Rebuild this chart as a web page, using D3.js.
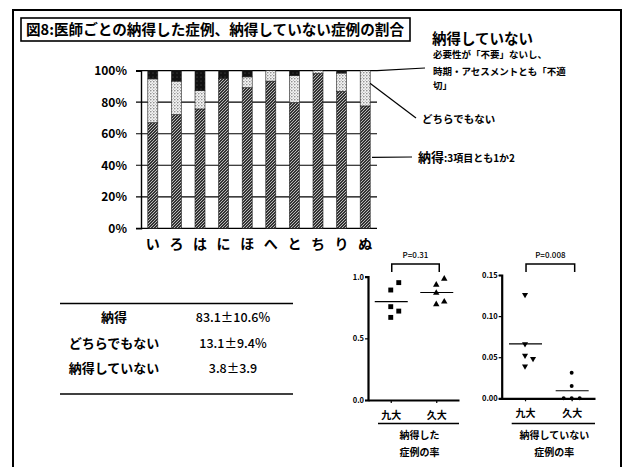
<!DOCTYPE html>
<html>
<head>
<meta charset="utf-8">
<script src="https://cdn.jsdelivr.net/npm/d3@7"></script>
<style>
  html, body { margin: 0; padding: 0; background: #fff; }
  svg { display: block; font-family: "Noto Sans CJK JP", "Noto Sans", sans-serif; }
  text { fill: #000; }
</style>
</head>
<body>
<svg id="chart" width="624" height="467"></svg>
<script>
// Per-doctor case ratios (%)
const categories = ["い", "ろ", "は", "に", "ほ", "へ", "と", "ち", "り", "ぬ"];
const agreed     = [67.0, 72.1, 75.7, 95.2, 89.2, 93.4, 79.7, 98.3, 86.9, 77.6];
const neutral    = [27.8, 21.3, 11.7,  0.0,  6.9,  6.6, 17.2,  1.7, 11.6, 22.4];
const notAgreed  = [ 5.2,  6.6, 12.6,  4.8,  3.9,  0.0,  3.1,  0.0,  1.5,  0.0];
const hospital   = ["九大", "九大", "九大", "九大", "九大", "久大", "久大", "久大", "久大", "久大"];
const yTicksPct  = [0, 20, 40, 60, 80, 100];

// Summary table
const tableLabels = ["納得", "どちらでもない", "納得していない"];
const tableValues = ["83.1±10.6%", "13.1±9.4%", "3.8±3.9"];

// Group comparison
const groups = ["九大", "久大"];
const pValues = ["P=0.31", "P=0.008"];
const leftTicks = [0, 0.5, 1.0];
const rightTicks = [0, 0.05, 0.10, 0.15];

const svg = d3.select("#chart");
svg.append("rect").attr("width", 624).attr("height", 467).attr("fill", "#fff");

// ---- patterns ----
const defs = svg.append("defs");
const pAg = defs.append("pattern").attr("id", "pAgreed").attr("patternUnits", "userSpaceOnUse")
  .attr("width", 3).attr("height", 3);
pAg.append("rect").attr("width", 3).attr("height", 3).attr("fill", "#333");
pAg.append("path").attr("d", "M0,3 L3,0 M-1,1 L1,-1 M2,4 L4,2").attr("stroke", "#c8c8c8").attr("stroke-width", 0.9);

const pNe = defs.append("pattern").attr("id", "pNeutral").attr("patternUnits", "userSpaceOnUse")
  .attr("width", 3).attr("height", 3);
pNe.append("rect").attr("width", 3).attr("height", 3).attr("fill", "#f4f4f4");
pNe.append("circle").attr("cx", 0.8).attr("cy", 0.8).attr("r", 0.75).attr("fill", "#777");
pNe.append("circle").attr("cx", 2.3).attr("cy", 2.3).attr("r", 0.5).attr("fill", "#999");

const pNo = defs.append("pattern").attr("id", "pNot").attr("patternUnits", "userSpaceOnUse")
  .attr("width", 4).attr("height", 4);
pNo.append("rect").attr("width", 4).attr("height", 4).attr("fill", "#111");
pNo.append("circle").attr("cx", 1).attr("cy", 1).attr("r", 0.5).attr("fill", "#666");

// ---- outer frame & title ----
svg.append("path").attr("d", "M13,470 L13,10 L621,10 L621,470")
  .attr("fill", "none").attr("stroke", "#000").attr("stroke-width", 2);
svg.append("rect").attr("x", 21).attr("y", 18).attr("width", 389).attr("height", 23)
  .attr("fill", "none").attr("stroke", "#000").attr("stroke-width", 1.6);
svg.append("text").attr("x", 26).attr("y", 35).attr("font-size", 14.5).attr("font-weight", 700)
  .attr("textLength", 378).attr("lengthAdjust", "spacingAndGlyphs")
  .text("図8:医師ごとの納得した症例、納得していない症例の割合");

// ---- stacked bar chart ----
const bx0 = 141, bx1 = 377, by0 = 228.3, by1 = 70.7;
const x = d3.scaleBand().domain(categories).range([bx0, bx1]).paddingInner(0.576).paddingOuter(0.288);
const y = d3.scaleLinear().domain([0, 100]).range([by0, by1]);

const rows = categories.map((c, i) => ({ cat: c, agreed: agreed[i], neutral: neutral[i], notAgreed: notAgreed[i] }));
const stack = d3.stack().keys(["agreed", "neutral", "notAgreed"])(rows);
const fills = { agreed: "url(#pAgreed)", neutral: "url(#pNeutral)", notAgreed: "url(#pNot)" };

// grid lines
svg.append("g").selectAll("line").data(yTicksPct).join("line")
  .attr("x1", bx0 - 5).attr("x2", bx1).attr("y1", d => y(d)).attr("y2", d => y(d))
  .attr("stroke", "#000").attr("stroke-width", 1.2);

const barG = svg.append("g");
stack.forEach(layer => {
  barG.append("g").selectAll("rect").data(layer.filter(d => d[1] - d[0] > 0)).join("rect")
    .attr("x", d => x(d.data.cat)).attr("width", x.bandwidth())
    .attr("y", d => y(d[1])).attr("height", d => y(d[0]) - y(d[1]))
    .attr("fill", fills[layer.key]).attr("stroke", "#222").attr("stroke-width", 0.6);
});

// y axis
const yAxis = svg.append("g").attr("transform", `translate(${bx0},0)`)
  .call(d3.axisLeft(y).tickValues(yTicksPct).tickFormat(d => d + "%").tickSize(5).tickPadding(9));
yAxis.select(".domain").attr("stroke", "#000").attr("stroke-width", 1.4);
yAxis.selectAll(".tick line").remove();
yAxis.selectAll("text").attr("font-size", 12).attr("font-weight", 700).attr("font-family", "Noto Sans CJK JP");

// category labels
svg.append("g").selectAll("text").data(categories).join("text")
  .attr("x", d => x(d) + x.bandwidth() / 2).attr("y", 248.5)
  .attr("text-anchor", "middle").attr("font-size", 14).attr("font-weight", 700)
  .text(d => d);

// ---- leader lines & legend notes ----
const lead = svg.append("g").attr("stroke", "#000").attr("stroke-width", 1.2);
lead.append("line").attr("x1", bx1).attr("y1", y(100)).attr("x2", 425).attr("y2", 68);
lead.append("line").attr("x1", 370).attr("y1", y(92)).attr("x2", 416).attr("y2", 118);
lead.append("line").attr("x1", 372).attr("y1", y(45)).attr("x2", 412).attr("y2", 157);

svg.append("text").attr("x", 432).attr("y", 44).attr("font-size", 14.5).attr("font-weight", 700).text("納得していない");
const noteG = svg.append("g").attr("font-size", 9.5).attr("font-weight", 700);
noteG.append("text").attr("x", 433).attr("y", 58).text("必要性が「不要」ないし、");
noteG.append("text").attr("x", 433).attr("y", 75).text("時期・アセスメントとも「不適");
noteG.append("text").attr("x", 433).attr("y", 88.5).text("切」");
svg.append("text").attr("x", 422).attr("y", 123).attr("font-size", 10.5).attr("font-weight", 700).text("どちらでもない");
const agText = svg.append("text").attr("x", 418).attr("y", 162).attr("font-weight", 700);
agText.append("tspan").attr("font-size", 13).text("納得");
agText.append("tspan").attr("font-size", 10).text(":3項目とも1か2");

// ---- summary table ----
svg.append("line").attr("x1", 60).attr("x2", 293).attr("y1", 303.5).attr("y2", 303.5).attr("stroke", "#000").attr("stroke-width", 1.6);
svg.append("line").attr("x1", 60).attr("x2", 293).attr("y1", 394).attr("y2", 394).attr("stroke", "#000").attr("stroke-width", 1.6);
const rowY = [317, 343, 368];
svg.append("g").selectAll("text").data(tableLabels).join("text")
  .attr("x", 114).attr("y", (d, i) => rowY[i] + 4.5).attr("text-anchor", "middle")
  .attr("font-size", 13).attr("font-weight", 700).text(d => d);
svg.append("g").selectAll("text").data(tableValues).join("text")
  .attr("x", 233).attr("y", (d, i) => rowY[i] + 4.5).attr("text-anchor", "middle")
  .attr("font-size", 12.5).attr("font-weight", 500).text(d => d);

// ---- dot plots ----
function jitterOffsets(vals, ys, step, minGap) {
  const order = vals.map((v, i) => i).sort((a, b) => vals[a] - vals[b]);
  const off = new Array(vals.length).fill(0);
  const placed = [];
  const candidates = [0, step, -step, 2 * step, -2 * step];
  order.forEach(i => {
    const yy = ys(vals[i]);
    const c = candidates.find(o => !placed.some(p => p.o === o && Math.abs(p.y - yy) < minGap));
    off[i] = c;
    placed.push({ o: c, y: yy });
  });
  return off;
}

function dotPlot(opts) {
  const { values, x0, x1, yBottom, yTop, domainMax, ticks, fmt, symbols, pText, caption } = opts;
  const g = svg.append("g");
  const ys = d3.scaleLinear().domain([0, domainMax]).range([yBottom, yTop]);
  const xs = d3.scalePoint().domain(groups).range([x0, x1]).padding(0.5);

  const ya = g.append("g").attr("transform", `translate(${x0},0)`)
    .call(d3.axisLeft(ys).tickValues(ticks).tickFormat(d3.format(fmt)).tickSize(3).tickPadding(1));
  ya.select(".domain").attr("stroke", "#000").attr("stroke-width", 2.2);
  ya.selectAll(".tick line").attr("stroke-width", 1.2);
  ya.selectAll("text").attr("font-size", 7.5).attr("font-weight", 700).attr("font-family", "Noto Sans CJK JP");

  const xa = g.append("g").attr("transform", `translate(0,${yBottom})`)
    .call(d3.axisBottom(xs).tickSize(3).tickPadding(9).tickSizeOuter(0));
  xa.select(".domain").attr("stroke", "#000").attr("stroke-width", 2.2);
  xa.selectAll(".tick line").attr("stroke-width", 1.2);
  xa.selectAll("text").attr("font-size", 10).attr("font-weight", 700).attr("font-family", "Noto Sans CJK JP");

  groups.forEach((grp, gi) => {
    const vals = values.filter((v, i) => hospital[i] === grp);
    const offs = jitterOffsets(vals, ys, 8, 8);
    const sym = d3.symbol().type(symbols[gi].type).size(symbols[gi].size);
    g.append("g").selectAll("path").data(vals).join("path")
      .attr("transform", (d, i) => `translate(${xs(grp) + offs[i]},${ys(d)})${symbols[gi].rotate ? " rotate(180)" : ""}`)
      .attr("d", sym).attr("fill", "#000");
    const m = d3.mean(vals);
    g.append("line").attr("x1", xs(grp) - 16).attr("x2", xs(grp) + 17)
      .attr("y1", ys(m)).attr("y2", ys(m)).attr("stroke", "#000").attr("stroke-width", 1.2);
  });

  // significance bracket
  const bx = [xs(groups[0]) + 1, xs(groups[1]) + 3];
  g.append("path").attr("d", `M${bx[0]},272 L${bx[0]},264 L${bx[1]},264 L${bx[1]},272`)
    .attr("fill", "none").attr("stroke", "#000").attr("stroke-width", 1.5);
  g.append("text").attr("x", (bx[0] + bx[1]) / 2).attr("y", 258).attr("text-anchor", "middle")
    .attr("font-size", 8).attr("font-weight", 500).text(pText);

  // caption
  g.append("line").attr("x1", x0 + 10).attr("x2", x1).attr("y1", 423.5).attr("y2", 423.5)
    .attr("stroke", "#000").attr("stroke-width", 1.6);
  g.selectAll("text.cap").data(caption).join("text").attr("class", "cap")
    .attr("x", (x0 + x1) / 2 + 6).attr("y", (d, i) => 439 + i * 16.5).attr("text-anchor", "middle")
    .attr("font-size", 10).attr("font-weight", 700).text(d => d);
}

dotPlot({
  values: agreed.map(v => v / 100), x0: 368, x1: 459, yBottom: 400, yTop: 276.7, domainMax: 1.0,
  ticks: leftTicks, fmt: ".1f",
  symbols: [{ type: d3.symbolSquare, size: 24 }, { type: d3.symbolTriangle, size: 18 }],
  pText: pValues[0], caption: ["納得した", "症例の率"]
});
dotPlot({
  values: notAgreed.map(v => v / 100), x0: 501.7, x1: 595, yBottom: 398.3, yTop: 275, domainMax: 0.15,
  ticks: rightTicks, fmt: ".2f",
  symbols: [{ type: d3.symbolTriangle, size: 16, rotate: true }, { type: d3.symbolCircle, size: 12 }],
  pText: pValues[1], caption: ["納得していない", "症例の率"]
});
</script>
</body>
</html>
